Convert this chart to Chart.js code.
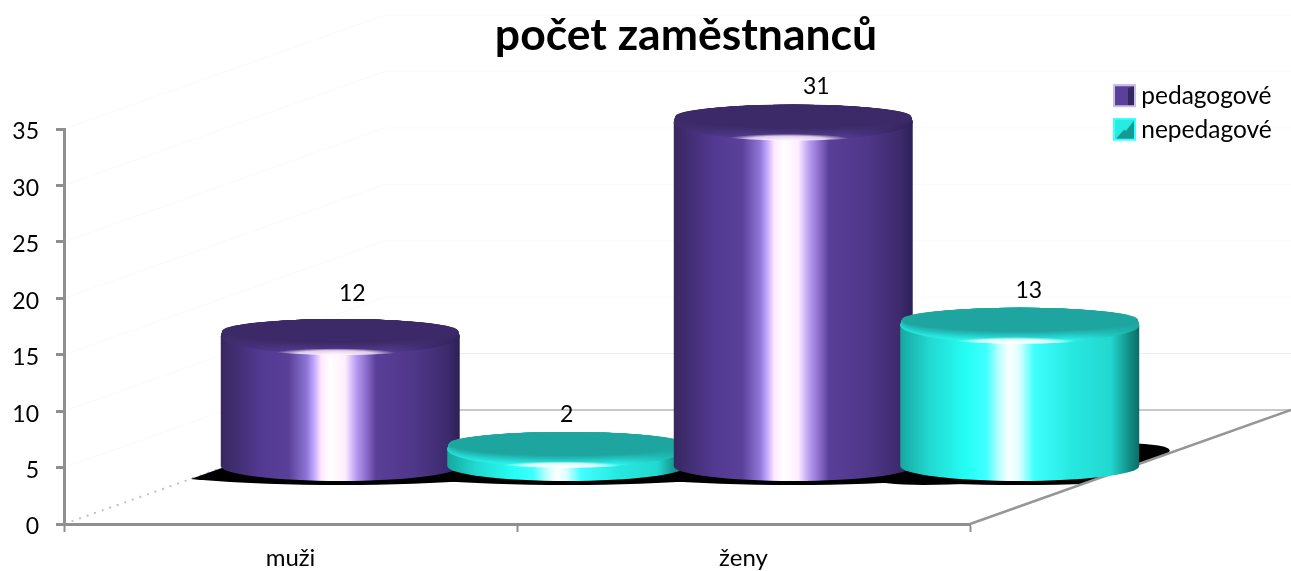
<!DOCTYPE html>
<html><head><meta charset="utf-8">
<style>html,body{margin:0;padding:0;background:#fff}canvas{display:block}</style>
<script src="https://cdn.jsdelivr.net/npm/chart.js@4"></script>
</head><body><canvas id="c" width="1291" height="571"></canvas>
<script>
const categories = ['muži', 'ženy'];
const pedagogove = [12, 31];
const nepedagove = [2, 13];
const yTicks = [0, 5, 10, 15, 20, 25, 30, 35];
const chartTitle = 'počet zaměstnanců';

const FONT = 'Lato, Carlito, sans-serif';
const DEPTH_X = 321, DEPTH_Y = 114;      // floor depth vector
const BAR_DX = 163, TOP_DY = -52, BASE_DY = -58;
const styles = {
  purple: {
    flat: [60, 42, 104], rim: [84, 60, 146], edgeL: [60, 42, 104], edgeR: [46, 32, 86], hi: 'rgba(255,240,255,',
    stops: [[0,'#37275f'],[.16,'#513890'],[.285,'#5a4098'],[.36,'#8f76d6'],[.39,'#c0a8ff'],[.42,'#ffe8ff'],[.46,'#ffffff'],[.52,'#ffeeff'],[.57,'#b498f0'],[.61,'#8a6cc8'],[.65,'#5a3f98'],[.82,'#4e3688'],[.95,'#3c2a6c'],[1,'#2c1f55']]
  },
  cyan: {
    flat: [30, 165, 160], rim: [44, 250, 242], edgeL: [34, 225, 216], edgeR: [24, 170, 162], hi: 'rgba(255,255,255,',
    stops: [[0,'#16a89f'],[.12,'#22d8d0'],[.28,'#24fff5'],[.36,'#40ffff'],[.42,'#c8ffff'],[.46,'#ffffff'],[.5,'#d8ffff'],[.56,'#40ffff'],[.72,'#26e8e0'],[.88,'#22d8d0'],[.96,'#128c84'],[1,'#0c6c66']]
  }
};
const labelShiftX = { pedagogove: [12, 23], nepedagove: [0, 9] };
const labelShiftY = { pedagogove: [-95, -88], nepedagove: [-87, -87] };

function swatch(inner, dark, edge, notch) {
  const c = document.createElement('canvas');
  c.width = 30; c.height = 24;
  const g = c.getContext('2d');
  g.fillStyle = edge; g.fillRect(7, 0, 23, 23);
  g.fillStyle = inner; g.fillRect(9, 2, 19, 19);
  g.fillStyle = dark;
  g.beginPath();
  if (notch) { g.moveTo(28, 3); g.lineTo(28, 21); g.lineTo(10, 21); g.lineTo(18, 12); g.lineTo(20, 13); }
  else { g.moveTo(28, 2); g.lineTo(28, 21); g.lineTo(22, 21); g.lineTo(22, 4); }
  g.closePath(); g.fill();
  return c;
}
const swatches = [swatch('#5a4098', '#37275f', '#c9bdea', false), swatch('#26ece4', '#149a92', '#3cffff', true)];

function rgb(a, b, t) {
  const c = a.map((v, k) => Math.round(v + (b[k] - v) * t));
  return `rgb(${c[0]},${c[1]},${c[2]})`;
}

function cylinder(ctx, x, topY, baseY, w, st) {
  const rx = w / 2, ryTop = 17.5, ryBase = 15;
  const g = ctx.createLinearGradient(x - rx, 0, x + rx, 0);
  st.stops.forEach(s => g.addColorStop(s[0], s[1]));
  ctx.fillStyle = g;
  ctx.beginPath();
  ctx.moveTo(x - rx, topY);
  ctx.lineTo(x - rx, baseY);
  ctx.ellipse(x, baseY, rx, ryBase, 0, Math.PI, 0, true);
  ctx.lineTo(x + rx, topY);
  ctx.closePath();
  ctx.fill();
  // top: stepped bevel from the rim in to the flat face
  const steps = 12;
  for (let i = 0; i <= steps; i++) {
    const t = i / steps;
    const lg = ctx.createLinearGradient(x - rx, 0, x + rx, 0);
    lg.addColorStop(0, rgb(st.edgeL, st.flat, t));
    lg.addColorStop(.3, rgb(st.rim, st.flat, t));
    lg.addColorStop(.7, rgb(st.rim, st.flat, t));
    lg.addColorStop(1, rgb(st.edgeR, st.flat, t));
    ctx.fillStyle = lg;
    ctx.beginPath();
    ctx.ellipse(x, topY - 5.5 * t, rx - 1.5 * t, ryTop - 5.5 * t, 0, 0, Math.PI * 2);
    ctx.fill();
  }
  // crescent highlight on the front edge of the top
  ctx.save();
  ctx.beginPath();
  ctx.ellipse(x, topY, rx, ryTop + 1, 0, 0, Math.PI * 2);
  ctx.clip();
  ctx.translate(x - 5, topY + ryTop - 0.5);
  ctx.scale(1, 0.085);
  const h = ctx.createRadialGradient(0, 0, 0, 0, 0, 62);
  h.addColorStop(0, st.hi + '1)');
  h.addColorStop(.6, st.hi + '.8)');
  h.addColorStop(1, st.hi + '0)');
  ctx.fillStyle = h;
  ctx.beginPath(); ctx.arc(0, 0, 62, 0, Math.PI * 2); ctx.fill();
  ctx.restore();
}

const scene = {
  id: 'scene',
  afterLayout(chart) {
    const t = chart.titleBlock;
    t.left += 201; t.right += 201;
    const l = chart.legend;
    const w = l.width, h = l.height;
    l.left = 1104; l.right = l.left + w; l.top = 75; l.bottom = l.top + h;
  },
  beforeDraw(chart) {
    const ctx = chart.ctx, xs = chart.scales.x, ys = chart.scales.y;
    const L = xs.left, R = xs.right, y0 = ys.getPixelForValue(0);
    ctx.save();
    // walls: nearly invisible back grid and left grid, drawn under all text
    ctx.lineWidth = 1;
    yTicks.forEach(v => {
      if (v === 0) return;
      const y = ys.getPixelForValue(v);
      ctx.strokeStyle = '#fafafa';
      ctx.beginPath(); ctx.moveTo(L, y); ctx.lineTo(L + DEPTH_X, y - DEPTH_Y); ctx.stroke();
      ctx.strokeStyle = v === 5 ? '#ececec' : '#fafafa';
      ctx.beginPath(); ctx.moveTo(L + DEPTH_X, y - DEPTH_Y); ctx.lineTo(R + DEPTH_X, y - DEPTH_Y); ctx.stroke();
    });
    ctx.strokeStyle = '#c8c8c8'; ctx.lineWidth = 2;
    ctx.beginPath(); ctx.moveTo(L + DEPTH_X, y0 - DEPTH_Y); ctx.lineTo(R + DEPTH_X, y0 - DEPTH_Y); ctx.stroke();
    ctx.strokeStyle = '#c0c0c0'; ctx.lineWidth = 2; ctx.setLineDash([2, 6]);
    ctx.beginPath(); ctx.moveTo(L, y0); ctx.lineTo(L + DEPTH_X, y0 - DEPTH_Y); ctx.stroke();
    ctx.restore();
  },
  beforeDatasetsDraw(chart) {
    const ctx = chart.ctx, xs = chart.scales.x, ys = chart.scales.y;
    const L = xs.left, R = xs.right, y0 = ys.getPixelForValue(0);
    ctx.save();
    const bars = [];
    chart.data.datasets.forEach((ds, di) => {
      chart.getDatasetMeta(di).data.forEach((el, i) => bars.push({ el, st: ds.cyl, ds, i }));
    });
    bars.sort((a, b) => a.el.x - b.el.x);
    const base = y0 + BASE_DY;

    // floor shadows, cut at the floor edges
    ctx.save();
    ctx.beginPath();
    ctx.moveTo(L, y0); ctx.lineTo(R, y0); ctx.lineTo(R + DEPTH_X, y0 - DEPTH_Y); ctx.lineTo(L + DEPTH_X, y0 - DEPTH_Y); ctx.closePath();
    ctx.clip();
    ctx.fillStyle = '#000';
    bars.forEach(b => {
      const cx = b.el.x + BAR_DX;
      ctx.beginPath(); ctx.ellipse(cx, base + 3, 190, 16, 0, 0, Math.PI * 2); ctx.fill();
    });
    const last = bars[bars.length - 1];
    ctx.save();
    ctx.translate(last.el.x + BAR_DX, base - 2);
    ctx.transform(1, -0.09, 0, 1, 0, 0);
    ctx.beginPath(); ctx.ellipse(0, 0, 150, 16, 0, 0, Math.PI * 2); ctx.fill();
    ctx.restore();
    ctx.restore();

    // right floor edge
    ctx.strokeStyle = '#969696'; ctx.lineWidth = 2.5;
    ctx.beginPath(); ctx.moveTo(R, y0); ctx.lineTo(R + DEPTH_X, y0 - DEPTH_Y); ctx.stroke();

    bars.forEach(b => cylinder(ctx, b.el.x + BAR_DX, b.el.y + TOP_DY, base, b.el.width, styles[b.st]));

    // value labels
    ctx.fillStyle = '#000';
    ctx.font = '23px ' + FONT;
    ctx.textAlign = 'center';
    ctx.textBaseline = 'middle';
    bars.forEach(b => {
      const key = b.ds.key;
      ctx.fillText(String(b.ds.data[b.i]), b.el.x + BAR_DX + labelShiftX[key][b.i], b.el.y + labelShiftY[key][b.i]);
    });
    ctx.restore();
    return false;
  }
};

new Chart(document.getElementById('c'), {
  type: 'bar',
  data: {
    labels: categories,
    datasets: [
      { label: 'pedagogové', key: 'pedagogove', cyl: 'purple', data: pedagogove, backgroundColor: '#5a4098' },
      { label: 'nepedagové', key: 'nepedagove', cyl: 'cyan', data: nepedagove, backgroundColor: '#22e0d8' }
    ]
  },
  plugins: [scene],
  options: {
    responsive: false,
    animation: false,
    events: [],
    datasets: { bar: { categoryPercentage: 1, barPercentage: 1.055 } },
    layout: { padding: { top: 0, left: 0, right: 321, bottom: 0 } },
    plugins: {
      tooltip: { enabled: false },
      title: {
        display: true, text: chartTitle, color: '#000',
        font: { family: FONT, size: 44.5, weight: 'bold', lineHeight: 1.2 },
        padding: { top: 9, bottom: 66.6 }
      },
      legend: {
        display: true, position: 'chartArea', align: 'start',
        labels: {
          color: '#000', font: { family: FONT, size: 24.5 }, usePointStyle: true, pointStyleWidth: 16, padding: 9,
          generateLabels: chart => chart.data.datasets.map((d, i) => ({
            text: d.label, pointStyle: swatches[i], datasetIndex: i, fontColor: '#000', hidden: false, lineWidth: 0
          }))
        }
      }
    },
    scales: {
      x: {
        afterFit: s => { s.height = 47; },
        border: { display: true, color: '#8f8f8f', width: 3 },
        grid: { drawOnChartArea: false, drawTicks: true, tickColor: '#8f8f8f', tickWidth: 2, tickLength: 8, offset: true },
        ticks: { color: '#000', font: { family: FONT, size: 24 }, padding: 12, maxRotation: 0 }
      },
      y: {
        min: 0, max: 35,
        afterFit: s => { s.width = 64; },
        afterBuildTicks: s => { s.ticks = yTicks.map(v => ({ value: v })); },
        border: { display: true, color: '#8f8f8f', width: 3 },
        grid: { drawOnChartArea: false, tickColor: '#8f8f8f', tickWidth: 3, tickLength: 8 },
        ticks: { color: '#000', font: { family: FONT, size: 23 }, padding: 17, labelOffset: 3 }
      }
    }
  }
});
</script></body></html>
